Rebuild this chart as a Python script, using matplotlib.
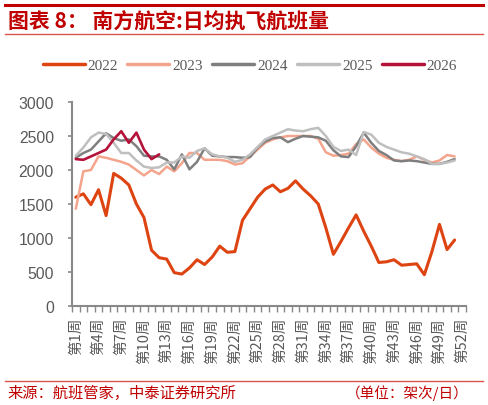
import matplotlib
matplotlib.use('Agg')
import matplotlib.pyplot as plt
from matplotlib.lines import Line2D
from matplotlib.ticker import FixedLocator, NullFormatter

plt.rcParams['font.family'] = ['Noto Sans CJK SC', 'DejaVu Sans']

# weekly daily flights (架次/日)
weeks = list(range(1, 53))
tick_weeks = [1, 4, 7, 10, 13, 16, 19, 22, 25, 28, 31, 34, 37, 40, 43, 46, 49, 52]
tick_labels = ['第%d周' % w for w in tick_weeks]

y2022 = [1600, 1650, 1490, 1710, 1330, 1950, 1880, 1780, 1500, 1300,
         820, 710, 690, 490, 470, 560, 680, 610, 720, 880,
         790, 800, 1260, 1430, 1600, 1720, 1780, 1680, 1730, 1840,
         1720, 1620, 1500, 1150, 760, 950, 1150, 1340, 1100, 880,
         640, 650, 680, 600, 610, 620, 460, 800, 1200, 830, 970]
y2023 = [1430, 1980, 2000, 2200, 2180, 2150, 2120, 2080, 2000, 1920,
         2000, 1940, 2050, 1980, 2100, 2250, 2250, 2150, 2150, 2150,
         2130, 2080, 2100, 2200, 2300, 2400, 2450, 2480, 2500, 2500,
         2500, 2500, 2460, 2260, 2210, 2220, 2240, 2380, 2450, 2330,
         2240, 2180, 2150, 2130, 2150, 2200, 2150, 2110, 2140, 2220, 2200]
y2024 = [2180, 2250, 2300, 2420, 2540, 2470, 2430, 2450, 2350, 2210,
         2200, 2200, 2150, 2010, 2230, 2010, 2120, 2320, 2210, 2200,
         2190, 2190, 2180, 2190, 2330, 2420, 2470, 2480, 2410, 2460,
         2500, 2490, 2480, 2430, 2290, 2200, 2190, 2350, 2550, 2400,
         2280, 2220, 2140, 2130, 2140, 2130, 2110, 2090, 2090, 2120, 2160]
y2025 = [2210, 2330, 2480, 2550, 2530, 2400, 2250, 2250, 2140, 2050,
         2030, 2040, 2110, 2110, 2200, 2180, 2280, 2320, 2230, 2200,
         2180, 2120, 2150, 2230, 2340, 2450, 2500, 2550, 2600, 2580,
         2570, 2600, 2620, 2500, 2340, 2280, 2300, 2220, 2560, 2520,
         2400, 2340, 2300, 2260, 2240, 2200, 2160, 2090, 2090, 2110, 2140]
y2026 = [2160, 2150, 2200, 2250, 2300, 2450, 2570, 2400, 2550, 2300,
         2160, 2230]

series = [('2022', y2022, '#DD4411', 2.2),
          ('2023', y2023, '#F4A48C', 1.8),
          ('2024', y2024, '#7F7F7F', 1.8),
          ('2025', y2025, '#BFBFBF', 1.8),
          ('2026', y2026, '#B5123A', 1.9)]

W, H = 488, 406
fig = plt.figure(figsize=(W / 100, H / 100), dpi=100)
ax = fig.add_axes([72 / W, 1 - 307 / H, (466 - 72) / W, (307 - 103) / H])

for name, vals, col, lw in series:
    ax.plot(weeks[:len(vals)], vals, color=col, lw=lw, label=name,
            solid_joinstyle='round', solid_capstyle='round')

grey = '#898989'
ax.set_xlim(0.5, 52.5)
ax.set_ylim(0, 3000)
ax.set_yticks(range(0, 3001, 500))
ax.set_xticks(tick_weeks)
ax.set_xticklabels(tick_labels, rotation=90, fontsize=10.5, color='#595959')
ax.xaxis.set_minor_locator(FixedLocator([w + 0.5 for w in range(0, 53)]))
ax.xaxis.set_minor_formatter(NullFormatter())
ax.tick_params(axis='x', which='major', length=0, pad=8)
ax.tick_params(axis='x', which='minor', length=4, width=1, color=grey, direction='out')
ax.tick_params(axis='y', length=3, width=1.2, color=grey, labelsize=11.3,
               labelcolor='#595959', pad=10)
for lab in ax.get_yticklabels():
    lab.set_family(['Liberation Sans', 'DejaVu Sans'])
for s in ['top', 'right']:
    ax.spines[s].set_visible(False)
for s in ['left', 'bottom']:
    ax.spines[s].set_color(grey)
    ax.spines[s].set_linewidth(1.5)

leg = fig.legend(loc='center', bbox_to_anchor=(250 / W, 1 - 66 / H), ncol=5,
                 frameon=False, handlelength=2.75, handletextpad=0.2,
                 columnspacing=0.6,
                 prop={'family': 'Liberation Serif', 'size': 11})
for t in leg.get_texts():
    t.set_color('#595959')
for h in leg.get_lines():
    h.set_linewidth(2.5)

red = '#C00000'
fig.add_artist(Line2D([5 / W, 483 / W], [1 - 6 / H, 1 - 6 / H], color=red, lw=2.2,
                      transform=fig.transFigure))
fig.add_artist(Line2D([5 / W, 483 / W], [1 - 35 / H, 1 - 35 / H], color='#D9534F', lw=1,
                      transform=fig.transFigure))
fig.add_artist(Line2D([5 / W, 483 / W], [1 - 382 / H, 1 - 382 / H], color='#D9534F', lw=1,
                      transform=fig.transFigure))
fig.text(8 / W, 1 - 22 / H, '图表 8： 南方航空:日均执飞航班量', color=red, fontsize=15,
         fontweight='bold', va='center', ha='left')
fig.text(7 / W, 1 - 393 / H, '来源：航班管家，中泰证券研究所', color=red, fontsize=11,
         va='center', ha='left')
fig.text(469 / W, 1 - 393 / H, '（单位：架次/日）', color=red, fontsize=10.5,
         va='center', ha='right')

fig.savefig('out.png', dpi=100)
